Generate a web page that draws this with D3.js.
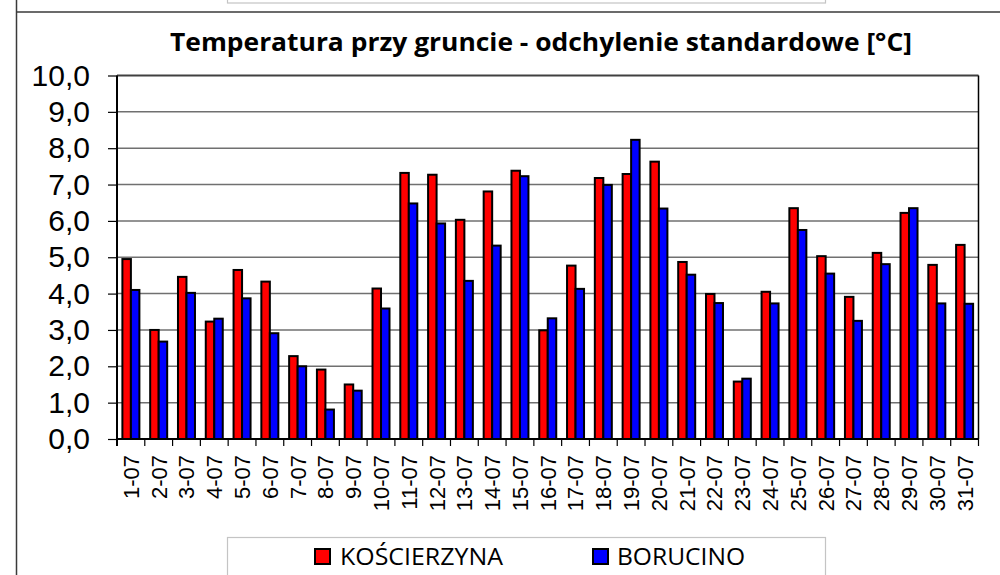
<!DOCTYPE html>
<html>
<head>
<meta charset="utf-8">
<script src="https://cdn.jsdelivr.net/npm/d3@7/dist/d3.min.js"></script>
<style>
  html, body { margin: 0; padding: 0; background: #fff; }
  svg { display: block; }
</style>
</head>
<body>
<svg id="chart" width="1000" height="575"></svg>
<script>
// Daily categories (July)
const days = ["1-07","2-07","3-07","4-07","5-07","6-07","7-07","8-07","9-07","10-07",
  "11-07","12-07","13-07","14-07","15-07","16-07","17-07","18-07","19-07","20-07",
  "21-07","22-07","23-07","24-07","25-07","26-07","27-07","28-07","29-07","30-07","31-07"];

const seriesNames = ["KOŚCIERZYNA", "BORUCINO"];

// Standard deviation of ground temperature [°C]
const koscierzyna = [4.95, 3.00, 4.46, 3.23, 4.65, 4.33, 2.28, 1.91, 1.50, 4.14,
  7.32, 7.27, 6.03, 6.81, 7.38, 2.99, 4.77, 7.18, 7.29, 7.63,
  4.87, 3.99, 1.58, 4.05, 6.35, 5.03, 3.91, 5.12, 6.22, 4.79, 5.34];
const borucino = [4.10, 2.68, 4.02, 3.31, 3.87, 2.91, 2.00, 0.81, 1.33, 3.59,
  6.48, 5.93, 4.35, 5.32, 7.23, 3.32, 4.13, 6.99, 8.23, 6.34,
  4.52, 3.74, 1.66, 3.73, 5.75, 4.55, 3.25, 4.81, 6.35, 3.73, 3.72];

const yTicks = [0,1,2,3,4,5,6,7,8,9,10];
const colors = ["#ff0000", "#0000ff"];

const svg = d3.select("#chart");
const W = 1000, H = 575;

const plot = { left: 117, right: 978.5, top: 75.5, bottom: 439 };

const pl = d3.formatLocale({ decimal: ",", thousands: " ", grouping: [3], currency: ["", " zł"] });
const fmt = pl.format(".1f");

// Outer frame lines of the chart object
svg.append("rect")
  .attr("x", 227.5).attr("y", -20).attr("width", 598).attr("height", 23)
  .attr("fill", "#fff").attr("stroke", "#c4c4c4").attr("stroke-width", 1.2);
svg.append("line")
  .attr("x1", 16.5).attr("x2", 16.5).attr("y1", 0).attr("y2", H)
  .attr("stroke", "#3a3a3a").attr("stroke-width", 1.5);
svg.append("line")
  .attr("x1", 16.5).attr("x2", W).attr("y1", 12).attr("y2", 12)
  .attr("stroke", "#3a3a3a").attr("stroke-width", 1.5);

// Title
svg.append("text")
  .attr("x", 170).attr("y", 50.5)
  .attr("textLength", 742).attr("lengthAdjust", "spacingAndGlyphs")
  .style("font-family", "'Open Sans', 'Noto Sans', sans-serif")
  .style("font-weight", "bold")
  .style("font-size", "25.5px")
  .attr("fill", "#000")
  .text("Temperatura przy gruncie - odchylenie standardowe [°C]");

// Scales
const x = d3.scaleBand().domain(days).range([plot.left, plot.right]).paddingInner(0).paddingOuter(0);
const x1 = d3.scaleBand().domain(seriesNames).range([0, x.bandwidth()]).paddingInner(0).paddingOuter(0.635);
const y = d3.scaleLinear().domain([0, 10]).range([plot.bottom, plot.top]);

// Gridlines
svg.append("g")
  .selectAll("line")
  .data(yTicks.filter(t => t > 0 && t < 10))
  .join("line")
  .attr("x1", plot.left).attr("x2", plot.right)
  .attr("y1", d => y(d)).attr("y2", d => y(d))
  .attr("stroke", "#707070").attr("stroke-width", 1.5);

// Plot border (top and right)
svg.append("line")
  .attr("x1", plot.left).attr("x2", plot.right)
  .attr("y1", y(10)).attr("y2", y(10))
  .attr("stroke", "#404040").attr("stroke-width", 2);
svg.append("line")
  .attr("x1", plot.right).attr("x2", plot.right)
  .attr("y1", plot.top).attr("y2", plot.bottom)
  .attr("stroke", "#000").attr("stroke-width", 1.5);

// Bars
const rows = days.map((d, i) => ({ day: d, values: [koscierzyna[i], borucino[i]] }));
const groups = svg.append("g").selectAll("g")
  .data(rows).join("g")
  .attr("transform", d => `translate(${x(d.day)},0)`);
groups.selectAll("rect")
  .data(d => d.values.map((v, j) => ({ key: seriesNames[j], value: v, j })))
  .join("rect")
  .attr("x", d => x1(d.key))
  .attr("width", x1.bandwidth())
  .attr("y", d => y(d.value))
  .attr("height", d => y(0) - y(d.value))
  .attr("fill", d => colors[d.j])
  .attr("stroke", "#000").attr("stroke-width", 2);

// Y axis
const yAxis = svg.append("g")
  .attr("transform", `translate(${plot.left},0)`)
  .call(d3.axisLeft(y).tickValues(yTicks).tickFormat(fmt).tickSize(9).tickPadding(18));
yAxis.select(".domain").remove();
yAxis.selectAll(".tick line").attr("stroke", "#000").attr("stroke-width", 1.2);
yAxis.selectAll("text")
  .style("font-family", "'Liberation Sans', Arial, sans-serif")
  .style("font-size", "30px")
  .attr("fill", "#000");
svg.append("line")
  .attr("x1", plot.left).attr("x2", plot.left)
  .attr("y1", plot.top).attr("y2", plot.bottom + 7)
  .attr("stroke", "#000").attr("stroke-width", 2);

// X axis
const xAxis = svg.append("g")
  .attr("transform", `translate(0,${plot.bottom})`)
  .call(d3.axisBottom(x).tickSize(0).tickPadding(0));
xAxis.select(".domain").remove();
xAxis.selectAll("text")
  .attr("transform", "rotate(-90)")
  .attr("x", -16).attr("y", 0).attr("dy", "0.36em")
  .style("text-anchor", "end")
  .style("font-family", "'Liberation Sans', Arial, sans-serif")
  .style("font-size", "22px")
  .attr("fill", "#000");
svg.append("line")
  .attr("x1", plot.left).attr("x2", plot.right)
  .attr("y1", plot.bottom).attr("y2", plot.bottom)
  .attr("stroke", "#000").attr("stroke-width", 2);
// Tick marks at category boundaries
svg.append("g").selectAll("line")
  .data(days.map(d => x(d)).concat([plot.right]))
  .join("line")
  .attr("x1", d => d).attr("x2", d => d)
  .attr("y1", plot.bottom).attr("y2", plot.bottom + 7)
  .attr("stroke", "#000").attr("stroke-width", 1.2);

// Legend
svg.append("rect")
  .attr("x", 227.5).attr("y", 537.5).attr("width", 598).attr("height", 60)
  .attr("fill", "#fff").attr("stroke", "#c4c4c4").attr("stroke-width", 1.2);
const legendItems = [
  { name: seriesNames[0], color: colors[0], sx: 315, tx: 340, tw: 163 },
  { name: seriesNames[1], color: colors[1], sx: 593, tx: 617, tw: 128 }
];
const lg = svg.append("g").selectAll("g").data(legendItems).join("g");
lg.append("rect")
  .attr("x", d => d.sx).attr("y", 549).attr("width", 15).attr("height", 15)
  .attr("fill", d => d.color).attr("stroke", "#000").attr("stroke-width", 2);
lg.append("text")
  .attr("x", d => d.tx).attr("y", 564.5)
  .attr("textLength", d => d.tw).attr("lengthAdjust", "spacingAndGlyphs")
  .style("font-family", "'Open Sans', 'Noto Sans', sans-serif")
  .style("font-size", "23.5px")
  .attr("fill", "#000")
  .text(d => d.name);
</script>
</body>
</html>
